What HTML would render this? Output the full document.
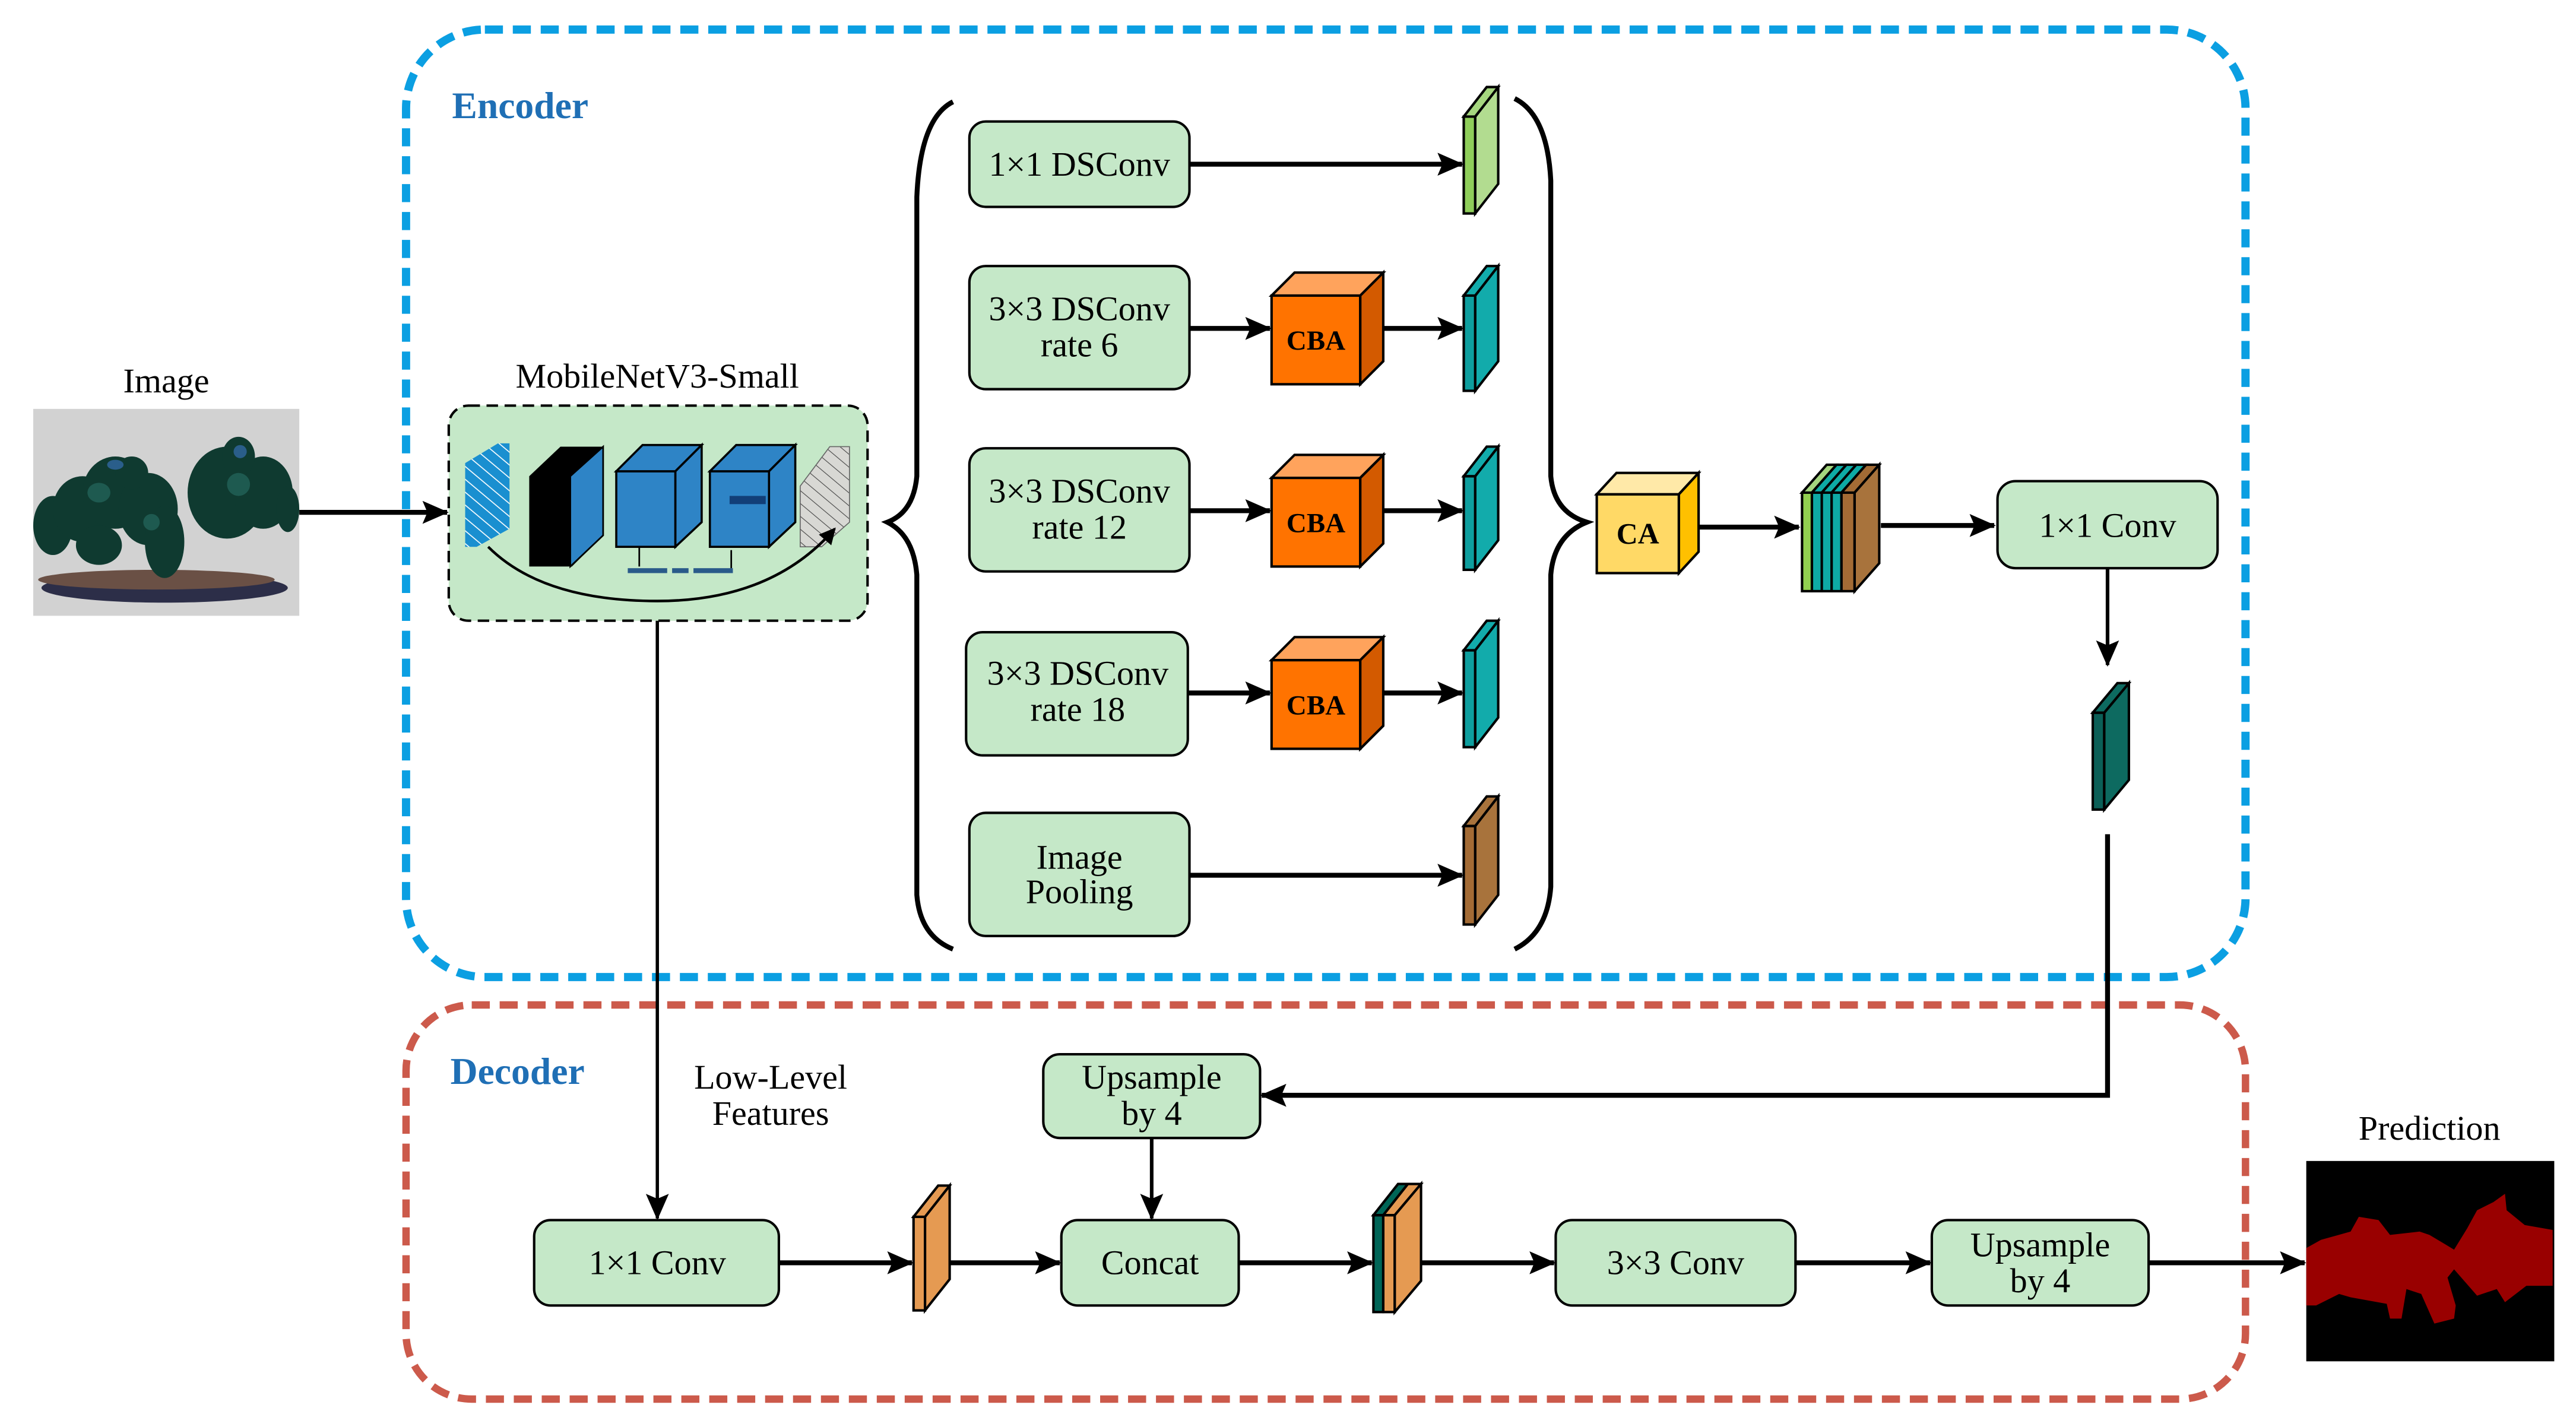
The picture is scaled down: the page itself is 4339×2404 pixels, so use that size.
<!DOCTYPE html>
<html><head><meta charset="utf-8"><style>
html,body{margin:0;padding:0;background:#fff}
svg{display:block}
text{font-family:"Liberation Serif",serif;fill:#000}
</style></head><body>
<svg width="4339" height="2404" viewBox="0 0 1568 869" xmlns="http://www.w3.org/2000/svg">
<defs>
<marker id="a" markerWidth="16" markerHeight="14" refX="15" refY="7" orient="auto" markerUnits="userSpaceOnUse">
<path d="M0,0 L16,7 L0,14 L3,7 Z" fill="#000"/>
</marker>
<marker id="as" markerWidth="10" markerHeight="10" refX="9" refY="5" orient="auto" markerUnits="userSpaceOnUse">
<path d="M0,0 L10,5 L0,10 Z" fill="#000"/>
</marker>
<pattern id="hb" width="6" height="6" patternUnits="userSpaceOnUse" patternTransform="rotate(-50)">
<rect width="6" height="6" fill="#1a8fd0"/><line x1="0" y1="0" x2="0" y2="6" stroke="#fff" stroke-width="1.2"/>
</pattern>
<pattern id="hg" width="6" height="6" patternUnits="userSpaceOnUse" patternTransform="rotate(-50)">
<rect width="6" height="6" fill="#d8d8d4"/><line x1="0" y1="0" x2="0" y2="6" stroke="#444" stroke-width="0.8"/>
</pattern>
</defs>

<rect x="247" y="18" width="1120" height="577" rx="48" fill="none" stroke="#0b9fe2" stroke-width="5" stroke-dasharray="11,6"/>
<rect x="247" y="612" width="1120" height="240" rx="40" fill="none" stroke="#cc5a4b" stroke-width="4.5" stroke-dasharray="11,6"/>
<text x="275" y="72" font-size="23" font-weight="bold" style="fill:#1f6fb5">Encoder</text>
<text x="274" y="660" font-size="23" font-weight="bold" style="fill:#1f6fb5">Decoder</text>

<text x="101" y="239" font-size="21" text-anchor="middle">Image</text>
<rect x="20" y="249" width="162" height="126" fill="#d2d2d2"/>
<ellipse cx="100" cy="358" rx="75" ry="9" fill="#2c2e48"/>
<ellipse cx="95" cy="353" rx="72" ry="6" fill="#6a5045"/>
<g fill="#0f3a30">
<ellipse cx="32" cy="320" rx="12" ry="18"/>
<ellipse cx="50" cy="310" rx="18" ry="20"/>
<ellipse cx="70" cy="300" rx="20" ry="22"/>
<ellipse cx="90" cy="310" rx="18" ry="22"/>
<ellipse cx="100" cy="330" rx="12" ry="22"/>
<ellipse cx="60" cy="332" rx="14" ry="12"/>
<ellipse cx="80" cy="288" rx="10" ry="10"/>
<ellipse cx="138" cy="300" rx="24" ry="28"/>
<ellipse cx="160" cy="300" rx="18" ry="22"/>
<ellipse cx="145" cy="278" rx="10" ry="12"/>
<ellipse cx="175" cy="310" rx="7" ry="14"/>
</g>
<g fill="#1e5a50"><ellipse cx="60" cy="300" rx="7" ry="6"/><ellipse cx="145" cy="295" rx="7" ry="7"/><ellipse cx="92" cy="318" rx="5" ry="5"/></g>
<g fill="#2a5e8a"><ellipse cx="70" cy="283" rx="5" ry="3"/><ellipse cx="146" cy="275" rx="4" ry="4"/></g>
<line x1="182" y1="312" x2="272" y2="312" stroke="#000" stroke-width="3" marker-end="url(#a)"/>

<text x="400" y="236" font-size="21" text-anchor="middle">MobileNetV3-Small</text>
<rect x="273" y="247" width="255" height="131" rx="12" fill="#c5e8c8" stroke="#000" stroke-width="1.5" stroke-dasharray="7,4"/>
<polygon points="283,282 303,270 310,270 310,322 290,333 283,333" fill="url(#hb)"/>
<polygon points="322,290 341,272 367,272 367,326 348,345 322,345" fill="#000"/>
<polygon points="347,290 367,272 367,326 347,345" fill="#2e84c6" stroke="#000" stroke-width="1"/>
<g fill="#2e84c6" stroke="#000" stroke-width="1.3">
<rect x="375" y="287" width="36" height="46"/>
<polygon points="375,287 391,271 427,271 411,287"/>
<polygon points="411,287 427,271 427,318 411,333"/>
<rect x="432" y="287" width="36" height="46"/>
<polygon points="432,287 448,271 484,271 468,287"/>
<polygon points="468,287 484,271 484,318 468,333"/>
</g>
<rect x="444" y="302" width="22" height="5" fill="#123f78"/>
<polygon points="487,296 505,272 517,272 517,318 500,333 487,333" fill="url(#hg)" stroke="#666" stroke-width="0.6"/>
<path d="M297,333 Q330,366 400,366 Q470,366 508,322" fill="none" stroke="#000" stroke-width="1.6" marker-end="url(#as)"/>
<rect x="382" y="346" width="24" height="3" fill="#2a5a8a"/><rect x="409" y="346" width="10" height="3" fill="#2a5a8a"/><rect x="422" y="346" width="24" height="3" fill="#2a5a8a"/>
<line x1="389" y1="333" x2="389" y2="345" stroke="#000" stroke-width="1"/>
<line x1="445" y1="346" x2="445" y2="335" stroke="#000" stroke-width="1"/>
<line x1="400" y1="378" x2="400" y2="742" stroke="#000" stroke-width="2" marker-end="url(#a)"/>

<path d="M580,62 Q560,72 558,120 L558,290 Q556,312 540,318 Q556,326 558,350 L558,545 Q560,570 580,578" fill="none" stroke="#000" stroke-width="3"/>
<path d="M922,60 Q942,70 944,110 L944,290 Q946,312 966,318 Q946,326 944,350 L944,540 Q942,568 922,578" fill="none" stroke="#000" stroke-width="3"/>

<g fill="#c5e8c8" stroke="#000" stroke-width="1.5">
<rect x="590" y="74" width="134" height="52" rx="10"/>
<rect x="590" y="162" width="134" height="75" rx="10"/>
<rect x="590" y="273" width="134" height="75" rx="10"/>
<rect x="588" y="385" width="135" height="75" rx="10"/>
<rect x="590" y="495" width="134" height="75" rx="10"/>
</g>
<g font-size="21" text-anchor="middle">
<text x="657" y="107">1×1 DSConv</text>
<text x="657" y="195">3×3 DSConv</text><text x="657" y="217">rate 6</text>
<text x="657" y="306">3×3 DSConv</text><text x="657" y="328">rate 12</text>
<text x="656" y="417">3×3 DSConv</text><text x="656" y="439">rate 18</text>
<text x="657" y="529">Image</text><text x="657" y="550">Pooling</text>
</g>

<g stroke="#000" stroke-width="1.5">
<g>
<rect x="774" y="180" width="54" height="54" fill="#ff7300"/>
<polygon points="774,180 788,166 842,166 828,180" fill="#ffa35c"/>
<polygon points="828,180 842,166 842,220 828,234" fill="#d35a00"/>
</g>
<g transform="translate(0,111)">
<rect x="774" y="180" width="54" height="54" fill="#ff7300"/>
<polygon points="774,180 788,166 842,166 828,180" fill="#ffa35c"/>
<polygon points="828,180 842,166 842,220 828,234" fill="#d35a00"/>
</g>
<g transform="translate(0,222)">
<rect x="774" y="180" width="54" height="54" fill="#ff7300"/>
<polygon points="774,180 788,166 842,166 828,180" fill="#ffa35c"/>
<polygon points="828,180 842,166 842,220 828,234" fill="#d35a00"/>
</g>
</g>
<g font-size="17" font-weight="bold" text-anchor="middle">
<text x="801" y="213">CBA</text><text x="801" y="324">CBA</text><text x="801" y="435">CBA</text>
</g>

<g stroke="#000" stroke-width="3">
<line x1="724" y1="100" x2="890" y2="100" marker-end="url(#a)"/>
<line x1="724" y1="200" x2="773" y2="200" marker-end="url(#a)"/>
<line x1="842" y1="200" x2="890" y2="200" marker-end="url(#a)"/>
<line x1="724" y1="311" x2="773" y2="311" marker-end="url(#a)"/>
<line x1="842" y1="311" x2="890" y2="311" marker-end="url(#a)"/>
<line x1="723" y1="422" x2="773" y2="422" marker-end="url(#a)"/>
<line x1="842" y1="422" x2="890" y2="422" marker-end="url(#a)"/>
<line x1="724" y1="533" x2="890" y2="533" marker-end="url(#a)"/>
</g>

<g stroke="#000" stroke-width="1.5">
<g><rect x="891" y="71" width="7" height="59" fill="#8fce5a"/><polygon points="898,71 912,53 912,112 898,130" fill="#b2dc90"/><polygon points="891,71 905,53 912,53 898,71" fill="#a5d67f"/></g>
<g><rect x="891" y="180" width="7" height="58" fill="#0e9e9e"/><polygon points="898,180 912,162 912,220 898,238" fill="#12abab"/><polygon points="891,180 905,162 912,162 898,180" fill="#12abab"/></g>
<g><rect x="891" y="290" width="7" height="57" fill="#0e9e9e"/><polygon points="898,290 912,272 912,329 898,347" fill="#12abab"/><polygon points="891,290 905,272 912,272 898,290" fill="#12abab"/></g>
<g><rect x="891" y="396" width="7" height="59" fill="#0e9e9e"/><polygon points="898,396 912,378 912,437 898,455" fill="#12abab"/><polygon points="891,396 905,378 912,378 898,396" fill="#12abab"/></g>
<g><rect x="891" y="503" width="7" height="60" fill="#a36b35"/><polygon points="898,503 912,485 912,545 898,563" fill="#a8733c"/><polygon points="891,503 905,485 912,485 898,503" fill="#a8733c"/></g>
<g><rect x="1274" y="434" width="7" height="59" fill="#0b5f57"/><polygon points="1281,434 1296,416 1296,475 1281,493" fill="#0d6a60"/><polygon points="1274,434 1289,416 1296,416 1281,434" fill="#0d6a60"/></g>
<rect x="972" y="301" width="50" height="48" fill="#ffd966"/>
<polygon points="972,301 984,288 1034,288 1022,301" fill="#ffe9a8"/>
<polygon points="1022,301 1034,288 1034,336 1022,349" fill="#ffc000"/>
<rect x="1097" y="300" width="6" height="60" fill="#92d050"/>
<rect x="1103" y="300" width="6" height="60" fill="#0eaaa5"/>
<rect x="1109" y="300" width="6" height="60" fill="#0eaaa5"/>
<rect x="1115" y="300" width="6" height="60" fill="#0eaaa5"/>
<rect x="1121" y="300" width="8" height="60" fill="#a36b35"/>
<polygon points="1097,300 1112,283 1118,283 1103,300" fill="#a5d67f"/>
<polygon points="1103,300 1118,283 1124,283 1109,300" fill="#0eaaa5"/>
<polygon points="1109,300 1124,283 1130,283 1115,300" fill="#0eaaa5"/>
<polygon points="1115,300 1130,283 1136,283 1121,300" fill="#0eaaa5"/>
<polygon points="1121,300 1136,283 1144,283 1129,300" fill="#a36b35"/>
<polygon points="1129,300 1144,283 1144,343 1129,360" fill="#a8733c"/>
<g><rect x="556" y="741" width="7" height="57" fill="#e59a52"/><polygon points="563,741 578,722 578,779 563,798" fill="#e59a52"/><polygon points="556,741 571,722 578,722 563,741" fill="#e59a52"/></g>
<rect x="836" y="740" width="6" height="59" fill="#006557"/>
<rect x="842" y="740" width="7" height="59" fill="#e59a52"/>
<polygon points="836,740 851,721 857,721 842,740" fill="#006557"/>
<polygon points="842,740 857,721 865,721 849,740" fill="#e59a52"/>
<polygon points="849,740 865,721 865,780 849,799" fill="#e59a52"/>
</g>
<text x="997" y="331" font-size="18" font-weight="bold" text-anchor="middle">CA</text>

<g stroke="#000" stroke-width="3">
<line x1="1034" y1="321" x2="1095" y2="321" marker-end="url(#a)"/>
<line x1="1145" y1="320" x2="1214" y2="320" marker-end="url(#a)"/>
</g>
<rect x="1216" y="293" width="134" height="53" rx="11" fill="#c5e8c8" stroke="#000" stroke-width="1.5"/>
<text x="1283" y="327" font-size="21" text-anchor="middle">1×1 Conv</text>
<line x1="1283" y1="346" x2="1283" y2="405" stroke="#000" stroke-width="2.2" marker-end="url(#a)"/>
<polyline points="1283,508 1283,667 768,667" fill="none" stroke="#000" stroke-width="3" marker-end="url(#a)"/>

<text x="469" y="663" font-size="21" text-anchor="middle">Low-Level</text>
<text x="469" y="685" font-size="21" text-anchor="middle">Features</text>
<g fill="#c5e8c8" stroke="#000" stroke-width="1.5">
<rect x="635" y="642" width="132" height="51" rx="10"/>
<rect x="325" y="743" width="149" height="52" rx="10"/>
<rect x="646" y="743" width="108" height="52" rx="10"/>
<rect x="947" y="743" width="146" height="52" rx="10"/>
<rect x="1176" y="743" width="132" height="52" rx="10"/>
</g>
<g font-size="21" text-anchor="middle">
<text x="701" y="663">Upsample</text><text x="701" y="685">by 4</text>
<text x="400" y="776">1×1 Conv</text>
<text x="700" y="776">Concat</text>
<text x="1020" y="776">3×3 Conv</text>
<text x="1242" y="765">Upsample</text><text x="1242" y="787">by 4</text>
</g>
<line x1="701" y1="693" x2="701" y2="742" stroke="#000" stroke-width="2.2" marker-end="url(#a)"/>
<g stroke="#000" stroke-width="3">
<line x1="474" y1="769" x2="555" y2="769" marker-end="url(#a)"/>
<line x1="578" y1="769" x2="645" y2="769" marker-end="url(#a)"/>
<line x1="754" y1="769" x2="835" y2="769" marker-end="url(#a)"/>
<line x1="865" y1="769" x2="946" y2="769" marker-end="url(#a)"/>
<line x1="1093" y1="769" x2="1175" y2="769" marker-end="url(#a)"/>
<line x1="1308" y1="769" x2="1403" y2="769" marker-end="url(#a)"/>
</g>

<text x="1479" y="694" font-size="21" text-anchor="middle">Prediction</text>
<rect x="1404" y="707" width="151" height="122" fill="#000"/>
<polygon fill="#990000" points="1404,760 1413,755 1431,750 1436,741 1448,743 1455,752 1473,750 1479,752 1489,758 1494,761 1502,748 1508,737 1518,732 1525,727 1526,737 1537,746 1554,749 1554,783 1538,783 1525,793 1520,785 1508,789 1501,781 1494,773 1490,778 1495,795 1494,803 1482,806 1474,788 1465,785 1462,803 1455,803 1453,794 1431,790 1424,788 1410,795 1404,795"/>
<polygon fill="#990000" points="1496,762 1510,745 1530,745 1554,752 1554,780 1530,782 1505,782"/>
</svg>
</body></html>
